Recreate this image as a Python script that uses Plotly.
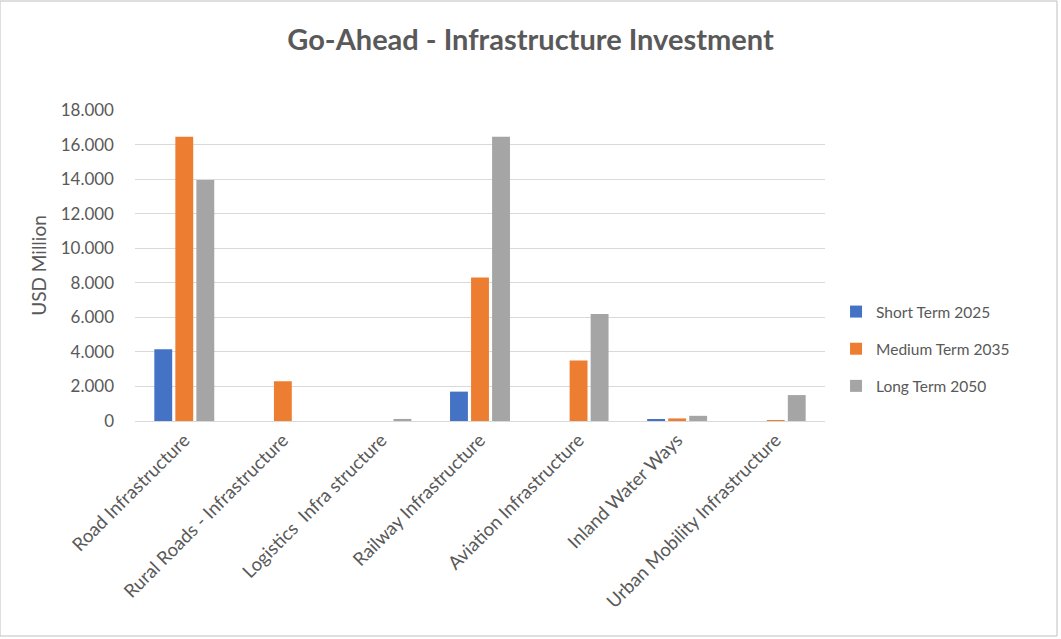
import plotly.graph_objects as go

categories = ["Road Infrastructure", "Rural Roads - Infrastructure", "Logistics  Infra structure",
              "Railway Infrastructure", "Aviation Infrastructure", "Inland Water Ways",
              "Urban Mobility Infrastructure"]
short_term_2025 = [4150, 0, 0, 1700, 0, 100, 0]
medium_term_2035 = [16450, 2300, 0, 8300, 3500, 150, 50]
long_term_2050 = [13950, 0, 120, 16450, 6200, 300, 1500]

series = [("Short Term 2025", short_term_2025, "#4472C4"),
          ("Medium Term 2035", medium_term_2035, "#ED7D31"),
          ("Long Term 2050", long_term_2050, "#A5A5A5")]

fig = go.Figure()
for name, vals, col in series:
    fig.add_trace(go.Bar(name=name, x=categories, y=vals, legendgroup=name,
                         marker=dict(color=col, line=dict(width=0))))

font = "Lato, 'Open Sans', sans-serif"
fig.update_layout(
    width=1061, height=639,
    margin=dict(l=135, r=236, t=110, b=218),
    paper_bgcolor="white", plot_bgcolor="white",
    barmode="group", bargap=0.36, bargroupgap=0.15,
    separators=",.",
    font=dict(family=font, color="#595959", size=14),
    title=dict(text="<b>Go-Ahead - Infrastructure Investment</b>", x=0.5, xanchor="center",
               y=0.938, yanchor="middle", font=dict(size=29, color="#595959", family=font)),
    legend=dict(x=1.016, y=(421 - 349) / 311, xanchor="left", yanchor="middle",
                font=dict(size=15.5, color="#595959"),
                itemwidth=30, tracegroupgap=14, traceorder="grouped"),
    xaxis=dict(tickangle=-45, showline=True, linecolor="#D9D9D9", linewidth=1,
               tickfont=dict(size=18.5, color="#595959"), showgrid=False, ticks=""),
    yaxis=dict(range=[0, 18000], tickvals=list(range(0, 18001, 2000)), tickformat=",d",
               showgrid=True, gridcolor="#D9D9D9", gridwidth=1, zeroline=False,
               tickfont=dict(size=17, color="#595959"), ticks="", ticklabelstandoff=20,
               title=dict(text="USD Million", font=dict(size=19, color="#595959"), standoff=9)),
    shapes=[dict(type="rect", xref="paper", yref="paper", x0=-135/690, x1=(1057-135)/690,
                 y0=-(636-421)/311, y1=(421-1)/311, line=dict(color="#BFBFBF", width=1),
                 fillcolor="rgba(0,0,0,0)", layer="below")],
)
fig.write_html("out.html")
